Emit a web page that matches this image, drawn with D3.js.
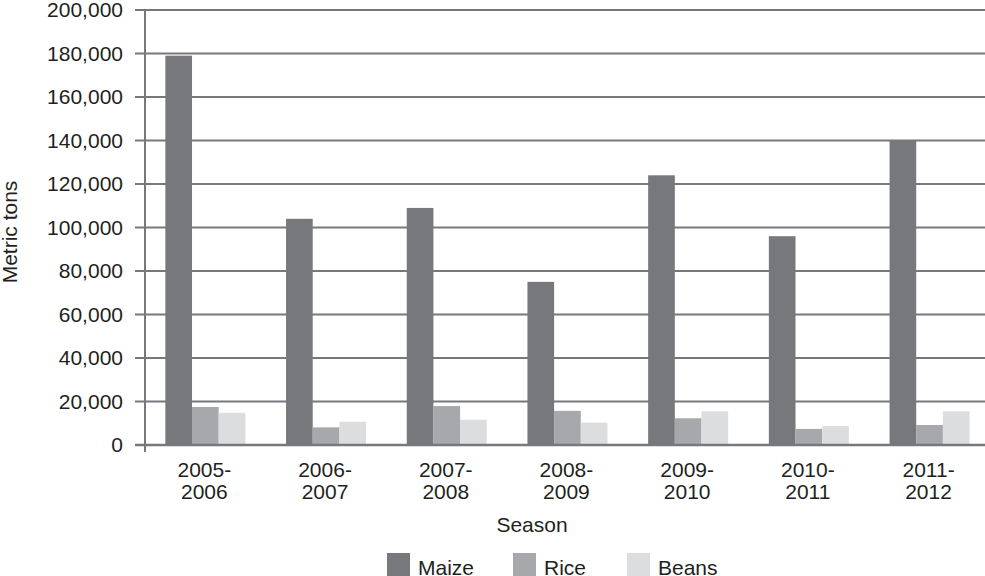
<!DOCTYPE html>
<meta charset="utf-8">
<style>
  body { margin: 0; background: #fff; }
  text { font-family: "Liberation Sans", Arial, sans-serif; fill: #231f20; }
</style>

<div id="chart"></div>

<script src="https://d3js.org/d3.v7.min.js"></script>
<script>

var seasons = ["2005-2006", "2006-2007", "2007-2008", "2008-2009", "2009-2010", "2010-2011", "2011-2012"];
var crops = ["Maize", "Rice", "Beans"];
var maize = [179000, 104000, 109000, 75000, 124000, 96000, 140000];
var rice = [17500, 8100, 17900, 15700, 12300, 7400, 9200];
var beans = [14800, 10700, 11600, 10300, 15500, 8700, 15500];
var yTicks = [0, 20000, 40000, 60000, 80000, 100000, 120000, 140000, 160000, 180000, 200000];
var colors = ["#77787b", "#a7a8ab", "#dcdddf"];

var series = [maize, rice, beans];

var width = 985, height = 576;
var plotLeft = 145, plotTop = 10, plotBottom = 445;
var bandW = 120.7;
var fontSize = "21px";

var svg = d3.select("#chart")
  .append("svg")
    .attr("width", width)
    .attr("height", height);

var x = d3.scaleBand()
  .domain(seasons)
  .range([plotLeft, plotLeft + bandW * seasons.length]);

var xInner = d3.scaleBand()
  .domain(crops)
  .range([0, 80]);

var y = d3.scaleLinear()
  .domain([0, 200000])
  .range([plotBottom, plotTop]);

// gridlines
svg.append("g")
  .selectAll("line")
  .data(yTicks)
  .enter()
  .append("line")
    .attr("x1", plotLeft - 10)
    .attr("x2", width)
    .attr("y1", function(d) { return y(d); })
    .attr("y2", function(d) { return y(d); })
    .attr("stroke", "#77787b")
    .attr("stroke-width", 2);

// y axis labels
var yAxis = svg.append("g")
  .attr("transform", "translate(" + (plotLeft - 10) + ",0)")
  .call(d3.axisLeft(y).tickValues(yTicks).tickSize(0).tickPadding(12).tickFormat(d3.format(",")));
yAxis.select(".domain").remove();
yAxis.selectAll("text")
  .style("font-size", fontSize)
  .style("font-family", "Liberation Sans, Arial, sans-serif")
  .attr("fill", "#231f20");

// bars
seasons.forEach(function(s, i) {
  var g = svg.append("g")
    .attr("transform", "translate(" + (x(s) + (bandW - 80) / 2) + ",0)");
  g.selectAll("rect")
    .data(crops)
    .enter()
    .append("rect")
      .attr("x", function(c) { return xInner(c); })
      .attr("width", xInner.bandwidth())
      .attr("y", function(c, j) { return y(series[j][i]); })
      .attr("height", function(c, j) { return y(0) - y(series[j][i]); })
      .attr("fill", function(c, j) { return colors[j]; });
});

// baseline + vertical axis
svg.append("line")
  .attr("x1", plotLeft - 10).attr("x2", width)
  .attr("y1", y(0)).attr("y2", y(0))
  .attr("stroke", "#77787b").attr("stroke-width", 2.5);
svg.append("line")
  .attr("x1", plotLeft).attr("x2", plotLeft)
  .attr("y1", plotTop - 1).attr("y2", plotBottom + 7)
  .attr("stroke", "#77787b").attr("stroke-width", 2);

// x labels (two lines)
var xl = svg.append("g")
  .selectAll("text")
  .data(seasons)
  .enter()
  .append("text")
    .attr("text-anchor", "middle")
    .style("font-size", fontSize)
    .attr("x", function(d) { return x(d) + bandW / 2 - 1; })
    .attr("y", 477);
xl.append("tspan")
  .text(function(d) { return d.split("-")[0] + "-"; });
xl.append("tspan")
  .attr("x", function(d) { return x(d) + bandW / 2 - 1; })
  .attr("dy", 21.5)
  .text(function(d) { return d.split("-")[1]; });

// axis titles
svg.append("text")
  .attr("text-anchor", "middle")
  .style("font-size", fontSize)
  .attr("x", 532)
  .attr("y", 532)
  .text("Season");

svg.append("text")
  .attr("text-anchor", "middle")
  .style("font-size", fontSize)
  .attr("transform", "translate(17,232)rotate(-90)")
  .text("Metric tons");

// legend
var legendX = [387, 513, 627];
var legend = svg.append("g")
  .selectAll("g")
  .data(crops)
  .enter()
  .append("g")
    .attr("transform", function(d, i) { return "translate(" + legendX[i] + ",553)"; });
legend.append("rect")
  .attr("width", 23)
  .attr("height", 23)
  .attr("fill", function(d, i) { return colors[i]; });
legend.append("text")
  .attr("x", 31)
  .attr("y", 22)
  .style("font-size", fontSize)
  .text(function(d) { return d; });

</script>
